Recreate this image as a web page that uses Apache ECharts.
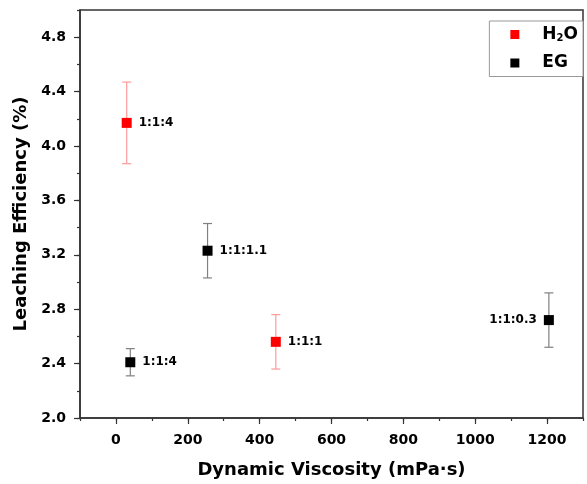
<!DOCTYPE html>
<html><head><meta charset="utf-8">
<script src="https://cdn.jsdelivr.net/npm/echarts@6/dist/echarts.min.js"></script>
<style>html,body{margin:0;padding:0;background:#fff}#c{width:587px;height:484px}</style>
</head><body><div id="c"></div>
<script>
const xTicks = [0, 200, 400, 600, 800, 1000, 1200];
const yTicks = [2.0, 2.4, 2.8, 3.2, 3.6, 4.0, 4.4, 4.8];
const h2oX = [30, 445];
const h2oY = [4.17, 2.56];
const h2oErr = [0.30, 0.20];
const h2oLabels = ['1:1:4', '1:1:1'];
const egX = [40, 255, 1205];
const egY = [2.41, 3.23, 2.72];
const egErr = [0.10, 0.20, 0.20];
const egLabels = ['1:1:4', '1:1:1.1', '1:1:0.3'];

const FONT = 'DejaVu Sans';
const AX = '#333';

function errSeries(name, xs, ys, es, color) {
  return {
    type: 'custom', name: name, silent: true, z: 1,
    xAxisIndex: 0, yAxisIndex: 0,
    encode: { x: 0, y: [1, 2] },
    data: xs.map((x, i) => [x, ys[i] - es[i], ys[i] + es[i]]),
    renderItem(params, api) {
      const lo = api.coord([api.value(0), api.value(1)]);
      const hi = api.coord([api.value(0), api.value(2)]);
      const hw = 4.5;
      const style = { stroke: color, lineWidth: 1.2 };
      return { type: 'group', children: [
        { type: 'line', shape: { x1: lo[0], y1: lo[1], x2: hi[0], y2: hi[1] }, style },
        { type: 'line', shape: { x1: lo[0] - hw, y1: lo[1], x2: lo[0] + hw, y2: lo[1] }, style },
        { type: 'line', shape: { x1: hi[0] - hw, y1: hi[1], x2: hi[0] + hw, y2: hi[1] }, style }
      ] };
    }
  };
}

function pointSeries(name, xs, ys, labels, color, leftIdx) {
  return {
    type: 'scatter', name: name, z: 3,
    xAxisIndex: 0, yAxisIndex: 0,
    symbol: 'rect', symbolSize: 10,
    itemStyle: { color: color, opacity: 1 },
    data: xs.map((x, i) => ({
      value: [x, ys[i]],
      label: { position: leftIdx.includes(i) ? 'left' : 'right', formatter: labels[i] }
    })),
    label: {
      show: true, distance: 7, color: '#000',
      fontFamily: FONT, fontWeight: 'bold', fontSize: 12
    }
  };
}

const tickLabel = { fontFamily: FONT, fontWeight: 'bold', fontSize: 14, color: '#000' };
const nameStyle = { fontFamily: FONT, fontWeight: 'bold', fontSize: 18, color: '#000' };

const chart = echarts.init(document.getElementById('c'), null, { renderer: 'canvas' });
chart.setOption({
  animation: false,
  backgroundColor: '#fff',
  grid: { left: 80, right: 4, top: 10, bottom: 66, show: true, borderColor: AX, borderWidth: 1.5, backgroundColor: 'transparent' },
  legend: {
    data: ['H2O', 'EG'], orient: 'vertical', right: 4, top: 21,
    itemWidth: 9, itemHeight: 9, icon: 'rect', itemGap: 11,
    padding: [5, 5, 5, 21], borderColor: '#999', borderWidth: 1, backgroundColor: '#fff',
    itemStyle: { opacity: 1 },
    formatter: n => n === 'H2O' ? '{a|H}{s|2}{a|O}' : '{a|EG}',
    textStyle: {
      padding: [0, 0, 0, 18],
      rich: {
        a: { fontFamily: FONT, fontWeight: 'bold', fontSize: 17, color: '#000' },
        s: { fontFamily: FONT, fontWeight: 'bold', fontSize: 10, color: '#000', padding: [8, 0, 0, 0] }
      }
    }
  },
  xAxis: [{
    type: 'value', min: -100, max: 1300, position: 'bottom',
    name: 'Dynamic Viscosity (mPa·s)', nameLocation: 'middle', nameGap: 43, nameTextStyle: nameStyle,
    axisLine: { show: true, onZero: false, lineStyle: { color: AX, width: 1.5 } },
    axisTick: { show: true, customValues: xTicks, length: 6, inside: false, lineStyle: { color: AX, width: 1.2 } },
    axisLabel: { customValues: xTicks, margin: 15, formatter: v => String(v), ...tickLabel },
    splitLine: { show: false }
  }, {
    type: 'value', min: -100, max: 1300, interval: 100, position: 'bottom',
    axisLine: { show: false, onZero: false },
    axisTick: { show: true, length: 3, lineStyle: { color: AX, width: 1.2 } },
    axisLabel: { show: false }, splitLine: { show: false }
  }],
  yAxis: [{
    type: 'value', min: 2.0, max: 5.0, position: 'left',
    name: 'Leaching Efficiency (%)', nameLocation: 'middle', nameGap: 48, nameTextStyle: nameStyle,
    axisLine: { show: true, onZero: false, lineStyle: { color: AX, width: 1.5 } },
    axisTick: { show: true, customValues: yTicks, length: 6, lineStyle: { color: AX, width: 1.2 } },
    axisLabel: { customValues: yTicks, margin: 14, formatter: v => v.toFixed(1), ...tickLabel },
    splitLine: { show: false }
  }, {
    type: 'value', min: 2.0, max: 5.0, interval: 0.2, position: 'left',
    axisLine: { show: false, onZero: false },
    axisTick: { show: true, length: 3, lineStyle: { color: AX, width: 1.2 } },
    axisLabel: { show: false }, splitLine: { show: false }
  }],
  series: [
    errSeries('H2O err', h2oX, h2oY, h2oErr, '#ff9a9a'),
    errSeries('EG err', egX, egY, egErr, '#808080'),
    pointSeries('H2O', h2oX, h2oY, h2oLabels, '#ff0000', []),
    pointSeries('EG', egX, egY, egLabels, '#000000', [2])
  ]
});
</script></body></html>
